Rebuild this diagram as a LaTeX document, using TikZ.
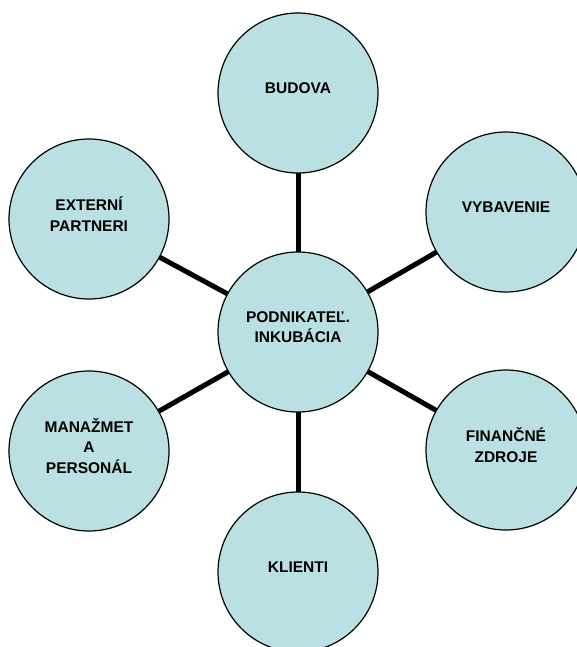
\documentclass[tikz,border=0pt]{standalone}
\usepackage{fontspec}
\setmainfont{Liberation Sans}
\usetikzlibrary{positioning, backgrounds}

\definecolor{bubblefill}{RGB}{187,224,227}

\begin{document}
\begin{tikzpicture}[on grid, node distance=240bp,
    bubble/.style={circle, draw, fill=bubblefill, line width=1.2bp, minimum size=160bp, inner sep=0pt},
    caption/.style={align=center, font=\bfseries\fontsize{15.5bp}{20.5bp}\selectfont, yshift=5bp},
    spoke/.style={line width=5bp}]
    \useasboundingbox (0,0) rectangle (577bp,-647bp);

    \node[bubble, label={[caption]center:PODNIKATEĽ.\\INKUBÁCIA}] (hub) at (298bp,-332bp) {};
    \node[bubble, label={[caption]center:BUDOVA}] (budova) [above=239bp of hub] {};
    \node[bubble, label={[caption]center:VYBAVENIE}] (vybavenie) [above right=120bp and 208bp of hub] {};
    \node[bubble, label={[caption]center:FINANČNÉ\\ZDROJE}] (zdroje) [below right=118bp and 208bp of hub] {};
    \node[bubble, label={[caption]center:KLIENTI}] (klienti) [below=240bp of hub] {};
    \node[bubble, label={[caption]center:MANAŽMET\\A\\PERSONÁL}] (manazment) [below left=119bp and 209bp of hub] {};
    \node[bubble, label={[caption]center:EXTERNÍ\\PARTNERI}] (partneri) [above left=113bp and 209bp of hub] {};

    \begin{scope}[on background layer]
        \foreach \n in {budova, vybavenie, zdroje, klienti, manazment, partneri}
            \draw[spoke] (hub.center) -- (\n.center);
    \end{scope}
\end{tikzpicture}
\end{document}
